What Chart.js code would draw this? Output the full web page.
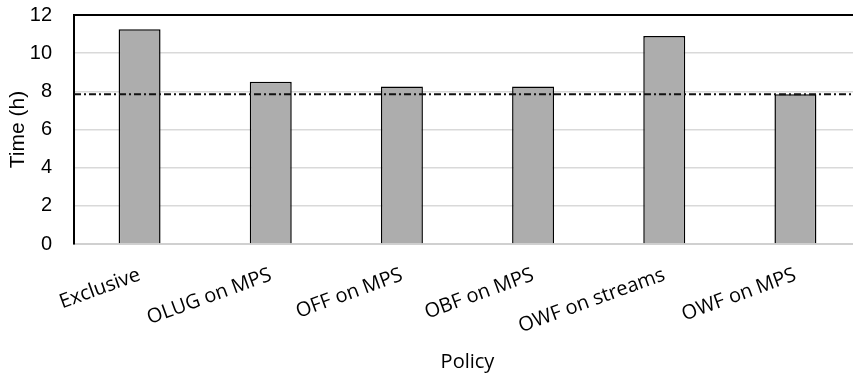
<!DOCTYPE html>
<html>
<head>
<meta charset="utf-8">
<script src="https://cdn.jsdelivr.net/npm/chart.js@4"></script>
<style>
  html, body { margin: 0; padding: 0; background: #fff; overflow: hidden; }
  #wrap { width: 862px; height: 378px; }
</style>
</head>
<body>
<div id="wrap"><canvas id="c" width="862" height="378"></canvas></div>
<script>
// Run time per scheduling policy, in hours
const policies = ['Exclusive', 'OLUG on MPS', 'OFF on MPS', 'OBF on MPS', 'OWF on streams', 'OWF on MPS'];
const hours = [11.25, 8.5, 8.25, 8.25, 10.9, 7.85];
const referenceHours = 7.85;
const yTicks = { min: 0, max: 12, step: 2 };

// Dash-dot reference line plus the black frame on the top and right of the plot
const frameAndReference = {
  id: 'frameAndReference',
  afterDatasetsDraw(chart) {
    const { ctx, chartArea: a, scales } = chart;
    const y = scales.y.getPixelForValue(referenceHours);
    ctx.save();
    ctx.strokeStyle = '#111';
    ctx.lineWidth = 2;
    ctx.setLineDash([7, 3, 2, 3]);
    ctx.beginPath();
    ctx.moveTo(a.left, y);
    ctx.lineTo(a.right, y);
    ctx.stroke();
    ctx.setLineDash([]);
    ctx.strokeStyle = '#000';
    ctx.beginPath();
    ctx.moveTo(a.left, a.top);
    ctx.lineTo(a.right, a.top);
    ctx.lineTo(a.right, a.bottom);
    ctx.stroke();
    ctx.restore();
  }
};

new Chart(document.getElementById('c'), {
  type: 'bar',
  data: {
    labels: policies,
    datasets: [{
      data: hours,
      backgroundColor: '#adadad',
      borderColor: '#000',
      borderWidth: 1.5,
      borderSkipped: 'bottom',
      barPercentage: 0.32,
      categoryPercentage: 1
    }]
  },
  options: {
    responsive: false,
    animation: false,
    layout: { padding: { top: 15, right: 1, left: 0, bottom: 0 } },
    plugins: { legend: { display: false }, tooltip: { enabled: false } },
    scales: {
      x: {
        grid: { display: false, drawTicks: false },
        border: { color: '#d0d0d0', width: 2 },
        ticks: {
          minRotation: 20, maxRotation: 20, padding: 19,
          color: '#000',
          font: { family: 'Open Sans', size: 20 }
        },
        title: {
          display: true, text: 'Policy', color: '#000',
          font: { family: 'Open Sans', size: 20 },
          padding: { top: 0, bottom: 4 }
        },
        afterFit(s) { s.height = 134; s.paddingLeft = 0; s.paddingRight = 0; }
      },
      y: {
        min: yTicks.min, max: yTicks.max,
        grid: { color: '#d9d9d9', lineWidth: 1.5, drawTicks: false },
        border: { color: '#000', width: 2 },
        ticks: {
          stepSize: yTicks.step, padding: 22, color: '#000',
          font: { family: 'Liberation Sans', size: 20 }
        },
        title: {
          display: true, text: 'Time (h)', color: '#000',
          font: { family: 'Liberation Sans', size: 21 },
          padding: { top: 6, bottom: 0 }
        },
        afterFit(s) { s.width = 74; s.paddingTop = 0; s.paddingBottom = 0; }
      }
    }
  },
  plugins: [frameAndReference]
});
</script>
</body>
</html>
